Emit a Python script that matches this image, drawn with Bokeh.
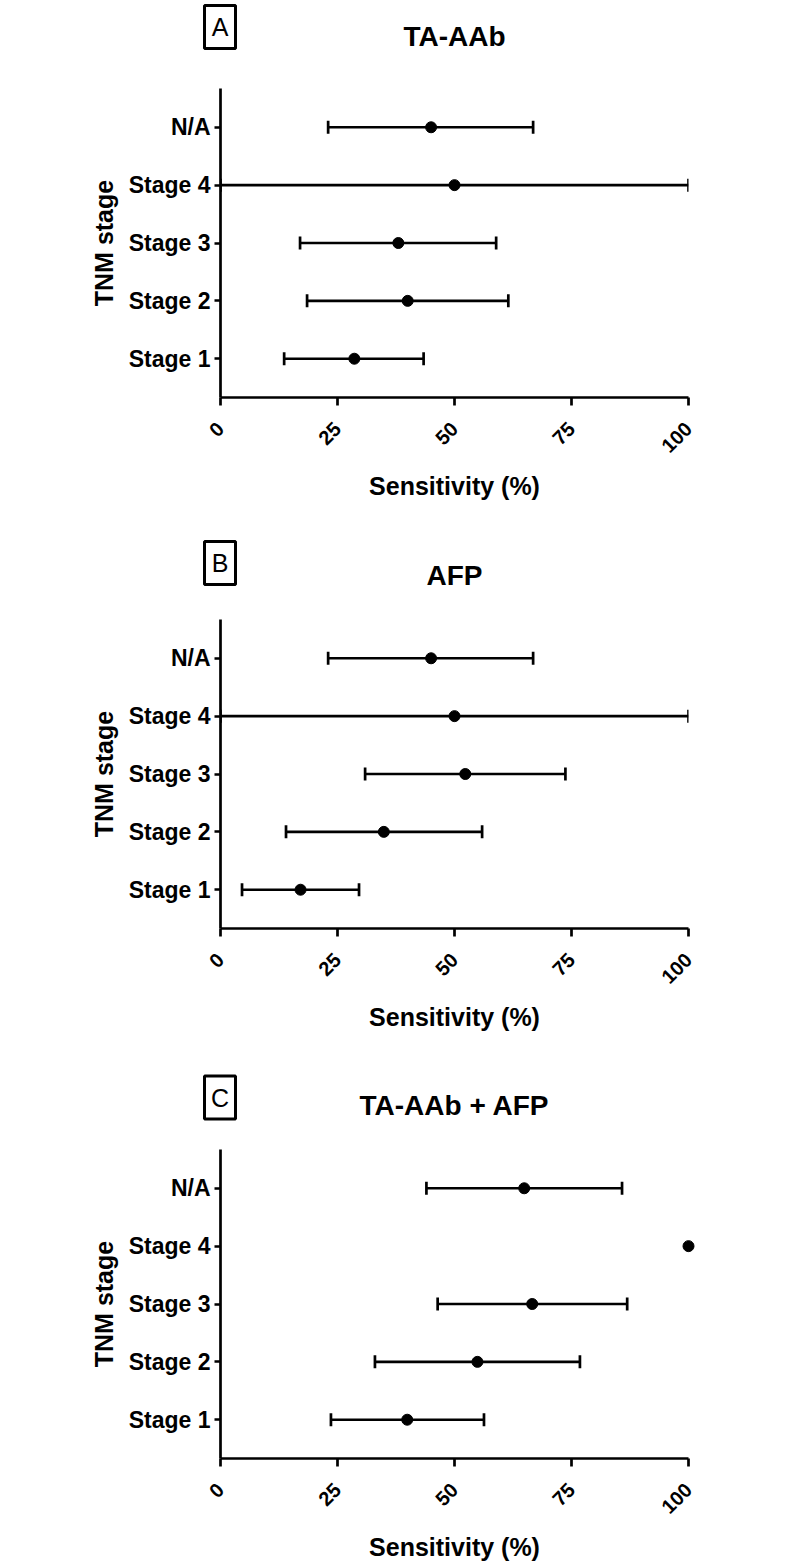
import math
from bokeh.plotting import figure
from bokeh.models import (FactorRange, Range1d, Whisker, ColumnDataSource,
                          FixedTicker, TeeHead)
from bokeh.core.properties import value
from bokeh.layouts import column
from bokeh.embed import file_html
from bokeh.resources import INLINE

# ---------------- data ----------------
stages = ["Stage 1", "Stage 2", "Stage 3", "Stage 4", "N/A"]
x_ticks = [0, 25, 50, 75, 100]

panel_letters = ["A", "B", "C"]
panel_titles = ["TA-AAb", "AFP", "TA-AAb + AFP"]

taaab_sens = [28.6, 40.0, 38.0, 50.0, 45.0]
taaab_low = [13.6, 18.5, 17.0, 0.0, 23.0]
taaab_high = [43.4, 61.5, 58.9, 100.0, 66.8]

afp_sens = [17.1, 34.9, 52.3, 50.0, 45.0]
afp_low = [4.6, 14.0, 30.9, 0.0, 23.0]
afp_high = [29.6, 55.9, 73.7, 100.0, 66.8]

comb_sens = [39.9, 54.9, 66.6, 100.0, 64.9]
comb_low = [23.6, 33.0, 46.4, None, 44.0]
comb_high = [56.3, 76.8, 86.9, None, 85.8]

panel_data = [
    (taaab_sens, taaab_low, taaab_high),
    (afp_sens, afp_low, afp_high),
    (comb_sens, comb_low, comb_high),
]

# ---------------- layout ----------------
FONT = "Liberation Sans"
FIG_W = 748
LEFT = 220
FRAME_W = 468
FRAME_H = 309
TOP = 10
header_h = [78, 72, 73]
bottom_b = [140, 138, 106]
box_y = [26.5, 25.5, 31]
title_y = [36, 38, 39]
BOX_X = 219.5
TITLE_X = LEFT + FRAME_W / 2


def make_header(i):
    h = header_h[i]
    p = figure(width=FIG_W, height=h,
               x_range=Range1d(LEFT, LEFT + FRAME_W), y_range=Range1d(h, 0),
               x_axis_location=None, y_axis_location=None,
               output_backend="svg", toolbar_location=None,
               min_border_left=LEFT, min_border_right=FIG_W - LEFT - FRAME_W,
               min_border_top=0, min_border_bottom=0)
    p.outline_line_color = None
    p.xgrid.grid_line_color = None
    p.ygrid.grid_line_color = None
    p.background_fill_color = "white"
    p.border_fill_color = "white"
    p.rect(x=[BOX_X], y=[box_y[i]], width=31, height=43,
           width_units="screen", height_units="screen",
           fill_color="white", line_color="black", line_width=3, level="overlay")
    p.text(x=[BOX_X], y=[box_y[i]], text=[panel_letters[i]],
           text_align="center", text_baseline="middle",
           text_font=value(FONT), text_font_size="25px", text_color="black",
           level="overlay")
    p.text(x=[TITLE_X], y=[title_y[i]], text=[panel_titles[i]],
           text_align="center", text_baseline="middle",
           text_font=value(FONT), text_font_style="bold", text_font_size="28px",
           text_color="black", level="overlay")
    return p


def make_panel(i):
    sens, low, high = panel_data[i]
    h = TOP + FRAME_H + bottom_b[i]
    p = figure(width=FIG_W, height=h,
               x_range=Range1d(0, 100),
               y_range=FactorRange(factors=stages, range_padding=0.17,
                                   range_padding_units="absolute"),
               output_backend="svg", toolbar_location=None,
               min_border_left=LEFT, min_border_right=FIG_W - LEFT - FRAME_W,
               min_border_top=TOP, min_border_bottom=bottom_b[i])
    p.outline_line_color = None
    p.xgrid.grid_line_color = None
    p.ygrid.grid_line_color = None
    p.background_fill_color = "white"
    p.border_fill_color = "white"

    # error bars
    ws = [k for k in range(len(stages)) if low[k] is not None and high[k] is not None]
    wsrc = ColumnDataSource(dict(stage=[stages[k] for k in ws],
                                 low=[low[k] for k in ws],
                                 high=[high[k] for k in ws]))
    w = Whisker(base="stage", lower="low", upper="high", dimension="width",
                source=wsrc, line_width=2.7, line_color="black", level="overlay")
    w.upper_head = TeeHead(size=13, line_width=2.7, line_color="black")
    w.lower_head = TeeHead(size=13, line_width=2.7, line_color="black")
    p.add_layout(w)

    psrc = ColumnDataSource(dict(stage=stages, sens=sens))
    p.scatter(x="sens", y="stage", source=psrc, size=11, color="black", level="overlay")

    # axes
    for ax in (p.xaxis[0], p.yaxis[0]):
        ax.axis_line_width = 2.7
        ax.axis_line_color = "black"
        ax.major_tick_line_width = 2.7
        ax.major_tick_line_color = "black"
        ax.major_tick_in = 0
        ax.minor_tick_line_color = None
        ax.major_label_text_font = FONT
        ax.major_label_text_font_style = "bold"
        ax.major_label_text_color = "black"
        ax.axis_label_text_font = FONT
        ax.axis_label_text_font_style = "bold"
        ax.axis_label_text_color = "black"
        ax.axis_label_text_font_size = "25px"

    xa = p.xaxis[0]
    xa.ticker = FixedTicker(ticks=x_ticks)
    xa.major_tick_out = 8
    xa.major_label_orientation = math.pi / 4
    xa.major_label_text_font_size = "20px"
    xa.major_label_standoff = 20
    xa.axis_label = "Sensitivity (%)"
    xa.axis_label_standoff = 10

    ya = p.yaxis[0]
    ya.major_tick_out = 6
    ya.major_label_text_font_size = "23px"
    ya.major_label_standoff = 4
    ya.axis_label = "TNM stage"
    ya.axis_label_standoff = 8
    return p


items = []
for i in range(3):
    items.append(make_header(i))
    items.append(make_panel(i))
layout = column(*items, spacing=0)

open("out.html", "w").write(file_html(layout, INLINE))
